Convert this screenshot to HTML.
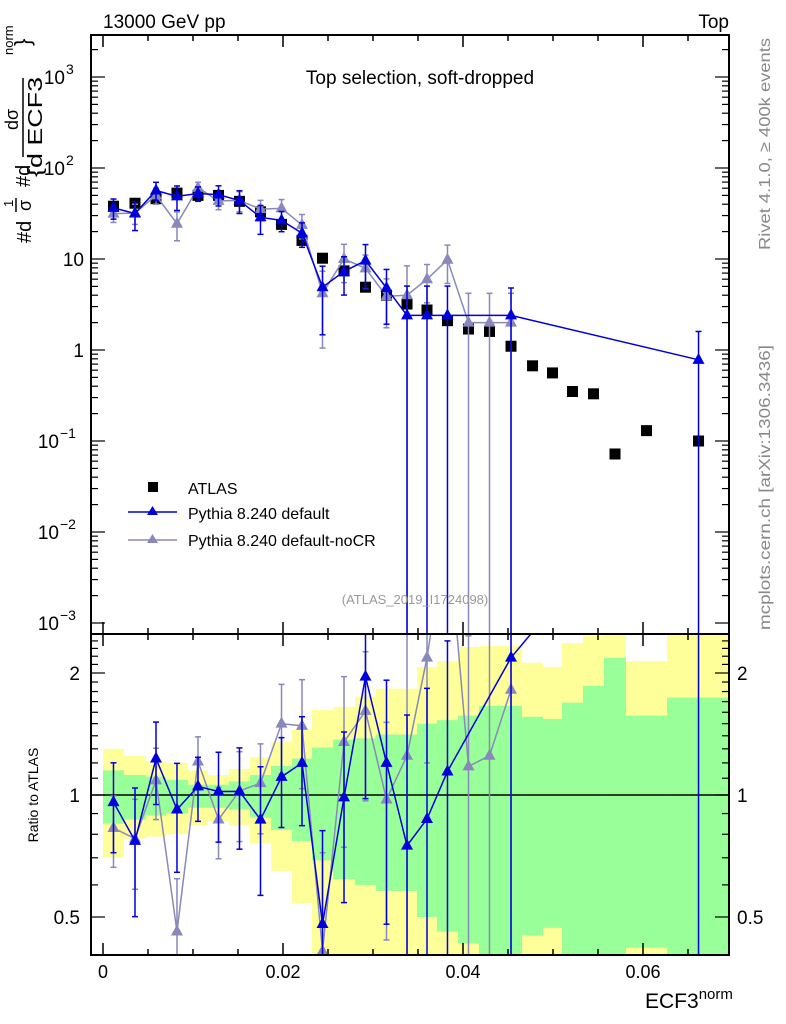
<!DOCTYPE html>
<html><head><meta charset="utf-8"><style>
body{margin:0;background:#fff}
svg{display:block;font-family:"Liberation Sans",sans-serif}
</style></head><body>
<svg id="chart" width="786" height="1024" viewBox="0 0 786 1024" xmlns="http://www.w3.org/2000/svg">
<g id="bands"></g>
<g id="grid"></g>
<g id="series"></g>
<rect x="91" y="35" width="638" height="599" fill="none" stroke="#000" stroke-width="2"/>
<rect x="91" y="634" width="638" height="321" fill="none" stroke="#000" stroke-width="2"/>
<text x="103" y="28" font-size="19">13000 GeV pp</text>
<text x="729" y="28" font-size="19" text-anchor="end">Top</text>
<text x="420" y="84" font-size="19" text-anchor="middle">Top selection, soft-dropped</text>
<text x="415" y="604" font-size="13" fill="#999" text-anchor="middle">(ATLAS_2019_I1724098)</text>
<g transform="rotate(-90)" font-size="20">
  <text x="-243" y="31">#d</text>
  <text x="-207" y="13" font-size="13">1</text>
  <line x1="-212" y1="16" x2="-198" y2="16" stroke="#000" stroke-width="1.5"/>
  <text x="-211" y="31" font-size="18">σ</text>
  <text x="-187" y="30">#d</text>
  <text x="-130" y="18" font-size="18">dσ</text>
  <line x1="-157" y1="23" x2="-78" y2="23" stroke="#000" stroke-width="1.5"/>
  <text x="-177" y="42" textLength="100" lengthAdjust="spacingAndGlyphs">{d ECF3</text>
  <text x="-55" y="13" font-size="13">norm</text>
  <text x="-46" y="30" font-size="22">}</text>
</g>
<text transform="translate(38,795) rotate(-90)" font-size="14" text-anchor="middle">Ratio to ATLAS</text>
<text x="645" y="1008" font-size="21">ECF3<tspan font-size="15" dy="-9">norm</tspan></text>
<text transform="translate(770,250) rotate(-90)" font-size="16" fill="#888" textLength="212" lengthAdjust="spacingAndGlyphs">Rivet 4.1.0, ≥ 400k events</text>
<text transform="translate(770,630) rotate(-90)" font-size="16" fill="#888" textLength="285" lengthAdjust="spacingAndGlyphs">mcplots.cern.ch [arXiv:1306.3436]</text>
<g>
  <rect x="148" y="482" width="10" height="10" fill="#000"/>
  <text x="188" y="494" font-size="16">ATLAS</text>
  <line x1="128" y1="512" x2="177" y2="512" stroke="#0000dd" stroke-width="1.5"/>
  <path d="M152.5,506 L158,515 L147,515Z" fill="#0000dd"/>
  <text x="188" y="519" font-size="16">Pythia 8.240 default</text>
  <line x1="128" y1="540" x2="177" y2="540" stroke="#8888bb" stroke-width="1.5"/>
  <path d="M152.5,534 L158,543 L147,543Z" fill="#8888bb"/>
  <text x="188" y="546" font-size="16">Pythia 8.240 default-noCR</text>
</g>
</svg>
<script>
const binEdges=[0,0.00233,0.00478,0.007,0.00944,0.01167,0.014,0.01633,0.01867,0.021,0.02322,0.02556,0.028,0.03033,0.03267,0.03489,0.03711,0.03944,0.04178,0.04411,0.04656,0.04889,0.051,0.05333,0.05567,0.05811,0.06267,0.06967];
const atlasValues=[38,41,46,53,50,50,43,33,24,16,10.2,7.4,4.9,4.0,3.2,2.75,2.1,1.7,1.6,1.1,0.67,0.56,0.35,0.33,0.072,0.13,0.1];
const yellowUp=[1.30,1.25,1.21,1.2,1.15,1.12,1.16,1.24,1.35,1.45,1.62,1.65,1.75,1.83,1.83,2.07,2.14,2.32,2.33,2.33,2.12,2.07,2.37,2.47,2.8,2.14,2.8];
const yellowDown=[0.70,0.78,0.79,0.8,0.84,0.86,0.84,0.76,0.65,0.54,0.3,0.3,0.3,0.3,0.3,0.3,0.3,0.3,0.3,0.3,0.3,0.3,0.3,0.3,0.3,0.3,0.3];
const greenUp=[1.15,1.12,1.11,1.09,1.06,1.06,1.08,1.12,1.18,1.23,1.31,1.37,1.38,1.41,1.41,1.5,1.53,1.57,1.66,1.66,1.56,1.54,1.69,1.86,2.18,1.57,1.74];
const greenDown=[0.85,0.87,0.89,0.9,0.93,0.93,0.92,0.88,0.82,0.77,0.69,0.62,0.6,0.58,0.58,0.5,0.46,0.43,0.3,0.3,0.45,0.47,0.3,0.3,0.3,0.42,0.3];
const defaultBins=[0,1,2,3,4,5,6,7,8,9,10,11,12,13,14,15,16,19,26];
const defaultValues=[36.5,31.6,56.6,48.8,52.5,51,43.9,28.7,26.6,19.2,4.9,7.3,9.6,4.8,2.4,2.4,2.4,2.4,0.78];
const defaultErr=[0.25,0.35,0.23,0.3,0.18,0.25,0.28,0.35,0.25,0.3,0.7,0.45,0.5,0.6,1.1,1.1,1.1,1.0,1.05];
const nocrBins=[0,1,2,3,4,5,6,7,8,9,10,11,12,13,14,15,16,17,18,19];
const nocrValues=[31.5,32,50,24.4,60.5,43.5,44,35.3,36,23.7,4.2,10,7.9,3.9,4.0,6.0,9.8,2.0,2.0,2.0];
const nocrErr=[0.2,0.25,0.2,0.35,0.15,0.2,0.25,0.25,0.25,0.3,0.75,0.45,0.4,0.55,1.1,0.45,0.45,1.1,1.1,1.1];
const xTicks=[0,0.02,0.04,0.06];
const xTickLabels=["0","0.02","0.04","0.06"];
const ratioTicks=[0.5,1,2];
const ratioTickLabels=["0.5","1","2"];

const NS="http://www.w3.org/2000/svg";
const L=91,R=729,MT=35,MB=634,RT=634,RB=955;
const X=v=>103+v*9000;
const Y=v=>350-91*Math.log10(v);
const YR=r=>795-122*Math.log2(r);
const clampM=y=>Math.max(MT,Math.min(MB,y));
const clampR=y=>Math.max(RT,Math.min(RB,y));
function mk(tag,attrs,parent){const e=document.createElementNS(NS,tag);for(const k in attrs)e.setAttribute(k,attrs[k]);parent.appendChild(e);return e;}
const bands=document.getElementById('bands'),grid=document.getElementById('grid'),series=document.getElementById('series');
const centers=atlasValues.map((v,i)=>(binEdges[i]+binEdges[i+1])/2);

atlasValues.forEach((v,i)=>{
  const x0=X(binEdges[i]),x1=X(binEdges[i+1]);
  const yt=clampR(YR(yellowUp[i])),yb=clampR(YR(yellowDown[i]));
  const ry=mk('rect',{x:x0,y:yt,width:x1-x0,height:yb-yt,fill:'#ffff99'},bands);
  
  
});
atlasValues.forEach((v,i)=>{
  const x0=X(binEdges[i]),x1=X(binEdges[i+1]);
  const gt=clampR(YR(greenUp[i])),gb=clampR(YR(greenDown[i]));
  const rg=mk('rect',{x:x0,y:gt,width:x1-x0,height:gb-gt,fill:'#99ff99'},bands);
  
  
});
mk('line',{x1:L,y1:YR(1),x2:R,y2:YR(1),stroke:'#000','stroke-width':1.5},grid);

for(let k=0;k<=14;k++){
  const v=k*0.005,x=X(v);if(x>R)break;
  const len=(k%4===0)?12:6;
  [[MT,1],[MB,-1],[RT,1],[RB,-1]].forEach(([y,d])=>mk('line',{x1:x,y1:y,x2:x,y2:y+d*len,stroke:'#000','stroke-width':1.5},grid));
}
xTicks.forEach((v,i)=>{const t=mk('text',{x:X(v),y:978,'font-size':18,'text-anchor':'middle'},grid);t.textContent=xTickLabels[i];
});

for(let e=-3;e<=3;e++){
  for(let m=1;m<10;m++){const y=Y(m*Math.pow(10,e));if(y<MT||y>MB)continue;const len=m===1?14:7;
    mk('line',{x1:L,y1:y,x2:L+len,y2:y,stroke:'#000','stroke-width':1.2},grid);
    mk('line',{x1:R,y1:y,x2:R-len,y2:y,stroke:'#000','stroke-width':1.2},grid);}
  const y=Y(Math.pow(10,e));
  if(e===0||e===1){
    const t=mk('text',{x:84,y:y+7,'font-size':19,'text-anchor':'end'},grid);
    t.textContent=e===0?'1':'10';
    
  }else{
    const ex=e<0?'−'+(-e):String(e);
    const bx=e<0?59:65;
    const t=mk('text',{x:bx,y:y+7,'font-size':19,'text-anchor':'end'},grid);t.textContent='10';
    
    const s=mk('text',{x:bx+1,y:y-3,'font-size':14},grid);s.textContent=ex;
    
  }
}
[0.4,0.5,0.6,0.7,0.8,0.9,1,1.1,1.2,1.3,1.4,1.5,1.6,1.7,1.8,1.9,2,2.1,2.2,2.3,2.4].forEach(r=>{
  const y=YR(r);if(y<RT||y>RB)return;const len=ratioTicks.includes(r)?14:7;
  mk('line',{x1:L,y1:y,x2:L+len,y2:y,stroke:'#000','stroke-width':1.2},grid);
  mk('line',{x1:R,y1:y,x2:R-len,y2:y,stroke:'#000','stroke-width':1.2},grid);
});
ratioTicks.forEach((r,i)=>{
  const t=mk('text',{x:80,y:YR(r)+7,'font-size':19,'text-anchor':'end'},grid);t.textContent=ratioTickLabels[i];
  
  const t2=mk('text',{x:737,y:YR(r)+7,'font-size':19},grid);t2.textContent=ratioTickLabels[i];
  
});

const defs=mk('defs',{},series);
const c1=mk('clipPath',{id:'cm'},defs);mk('rect',{x:L,y:MT,width:R-L,height:MB-MT},c1);
const c2=mk('clipPath',{id:'cr'},defs);mk('rect',{x:L,y:RT,width:R-L,height:RB-RT},c2);
const gm=mk('g',{'clip-path':'url(#cm)'},series),gr=mk('g',{'clip-path':'url(#cr)'},series);

atlasValues.forEach((v,i)=>{
  const r=mk('rect',{x:X(centers[i])-5.5,y:Y(v)-5.5,width:11,height:11,fill:'#000'},gm);
  
});

function drawMC(bins,vals,errs,color,name){
  const pm=[],pr=[];
  bins.forEach((b,i)=>{
    const x=X(centers[b]),v=vals[i],e=errs[i]*v,ratio=v/atlasValues[b];
    const y=Y(v),yr=YR(ratio);
    pm.push(x+','+y);pr.push(x+','+yr);
    const lo=v-e>0?Y(v-e):MB+5,hi=Y(v+e);
    const eb=mk('line',{x1:x,y1:clampM(lo),x2:x,y2:clampM(hi),stroke:color,'stroke-width':1.5},gm);
    
    [lo,hi].forEach(yy=>{if(yy>MT&&yy<MB)mk('line',{x1:x-3,y1:yy,x2:x+3,y2:yy,stroke:color,'stroke-width':1.5},gm);});
    const rlo=ratio-errs[i]*ratio>0?YR(ratio*(1-errs[i])):RB+5,rhi=YR(ratio*(1+errs[i]));
    const rb=mk('line',{x1:x,y1:clampR(rlo),x2:x,y2:clampR(rhi),stroke:color,'stroke-width':1.5},gr);
    
    [rlo,rhi].forEach(yy=>{if(yy>RT&&yy<RB)mk('line',{x1:x-3,y1:yy,x2:x+3,y2:yy,stroke:color,'stroke-width':1.5},gr);});
  });
  const l1=mk('polyline',{points:pm.join(' '),fill:'none',stroke:color,'stroke-width':1.5},gm);
  
  const l2=mk('polyline',{points:pr.join(' '),fill:'none',stroke:color,'stroke-width':1.5},gr);
  
  bins.forEach((b,i)=>{
    const x=X(centers[b]),y=Y(vals[i]),yr=YR(vals[i]/atlasValues[b]);
    const t=mk('path',{d:`M${x},${y-7}L${x+6},${y+4}L${x-6},${y+4}Z`,fill:color},gm);
    
    const t2=mk('path',{d:`M${x},${yr-7}L${x+6},${yr+4}L${x-6},${yr+4}Z`,fill:color},gr);
    
  });
}
drawMC(nocrBins,nocrValues,nocrErr,'#8888bb','pythia-nocr');
drawMC(defaultBins,defaultValues,defaultErr,'#0000dd','pythia-default');
</script>
</body></html>
